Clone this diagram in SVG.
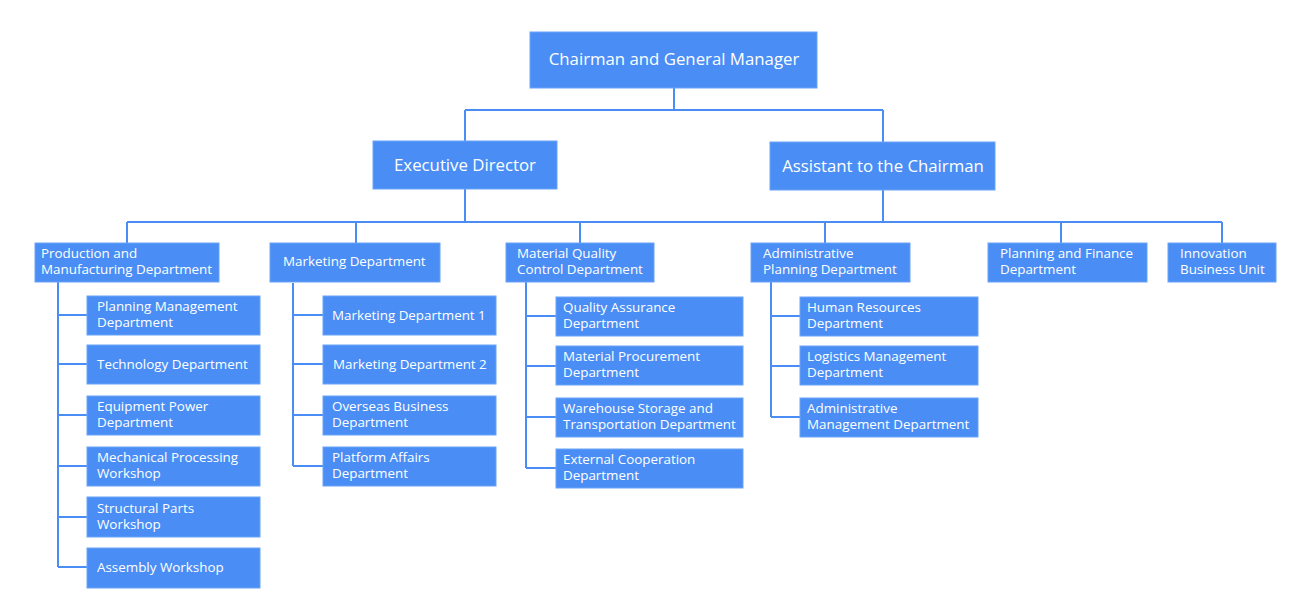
<svg xmlns="http://www.w3.org/2000/svg" width="1310" height="616" viewBox="0 0 1310 616">
<style>
.b{fill:#4a8ef5;stroke:#6aa3f7;stroke-width:1}
.t{font-family:"Open Sans","Noto Sans",sans-serif;font-size:13.4px;fill:#fff}
.tl{font-family:"Open Sans","Noto Sans",sans-serif;font-size:16.8px;fill:#fff;text-anchor:middle}
.c{fill:none;stroke:#4a8ef5;stroke-width:2}
</style>
<rect width="1310" height="616" fill="#fff"/>
<g id="connectors" class="c">
<path d="M674 88V110M465 110H883M465 110V141M883 110V142"/>
<path d="M465 189V222M883 190V222M127 222H1222M127 222V243M356 222V243M580 222V243M825 222V243M1061 222V243M1222 222V243"/>
<path d="M58 282V567M58 315H87M58 364H87M58 415H87M58 466H87M58 517H87M58 567H87"/>
<path d="M293 283V466M293 315H323M293 364H323M293 415H323M293 466H323"/>
<path d="M526 282V468M526 316H556M526 366H556M526 417H556M526 468H556"/>
<path d="M771 282V417M771 316H800M771 366H800M771 417H800"/>
</g>
<g id="n-chairman"><rect class="b" x="530" y="32" width="287" height="56"/><text class="tl" x="674" y="65">Chairman and General Manager</text></g>
<g id="n-exec"><rect class="b" x="373" y="141" width="184" height="48"/><text class="tl" x="465" y="171">Executive Director</text></g>
<g id="n-assist"><rect class="b" x="770" y="142" width="225" height="48"/><text class="tl" x="883" y="172">Assistant to the Chairman</text></g>

<g id="n-prod"><rect class="b" x="35" y="243" width="184" height="39"/><text class="t" x="41" y="258">Production and</text><text class="t" x="41" y="274">Manufacturing Department</text></g>
<g id="n-mkt"><rect class="b" x="270" y="243" width="170" height="39"/><text class="t" x="283" y="266">Marketing Department</text></g>
<g id="n-mqc"><rect class="b" x="506" y="243" width="148" height="39"/><text class="t" x="517" y="258">Material Quality</text><text class="t" x="517" y="274">Control Department</text></g>
<g id="n-admin"><rect class="b" x="751" y="243" width="159" height="39"/><text class="t" x="763" y="258">Administrative</text><text class="t" x="763" y="274">Planning Department</text></g>
<g id="n-pf"><rect class="b" x="988" y="243" width="159" height="39"/><text class="t" x="1000" y="258">Planning and Finance</text><text class="t" x="1000" y="274">Department</text></g>
<g id="n-innov"><rect class="b" x="1168" y="243" width="108" height="39"/><text class="t" x="1180" y="258">Innovation</text><text class="t" x="1180" y="274">Business Unit</text></g>

<g id="n-pm"><rect class="b" x="87" y="296" width="173" height="39"/><text class="t" x="97" y="311">Planning Management</text><text class="t" x="97" y="327">Department</text></g>
<g id="n-tech"><rect class="b" x="87" y="345" width="173" height="39"/><text class="t" x="97" y="369">Technology Department</text></g>
<g id="n-equip"><rect class="b" x="87" y="396" width="173" height="39"/><text class="t" x="97" y="411">Equipment Power</text><text class="t" x="97" y="427">Department</text></g>
<g id="n-mech"><rect class="b" x="87" y="447" width="173" height="39"/><text class="t" x="97" y="462">Mechanical Processing</text><text class="t" x="97" y="478">Workshop</text></g>
<g id="n-struct"><rect class="b" x="87" y="497" width="173" height="40"/><text class="t" x="97" y="513">Structural Parts</text><text class="t" x="97" y="529">Workshop</text></g>
<g id="n-assembly"><rect class="b" x="87" y="548" width="173" height="40"/><text class="t" x="97" y="572">Assembly Workshop</text></g>

<g id="n-md1"><rect class="b" x="323" y="296" width="173" height="39"/><text class="t" x="332" y="320">Marketing Department 1</text></g>
<g id="n-md2"><rect class="b" x="323" y="345" width="173" height="39"/><text class="t" x="333" y="369">Marketing Department 2</text></g>
<g id="n-overseas"><rect class="b" x="323" y="396" width="173" height="39"/><text class="t" x="332" y="411">Overseas Business</text><text class="t" x="332" y="427">Department</text></g>
<g id="n-platform"><rect class="b" x="323" y="447" width="173" height="39"/><text class="t" x="332" y="462">Platform Affairs</text><text class="t" x="332" y="478">Department</text></g>

<g id="n-qa"><rect class="b" x="556" y="297" width="187" height="39"/><text class="t" x="563" y="312">Quality Assurance</text><text class="t" x="563" y="328">Department</text></g>
<g id="n-proc"><rect class="b" x="556" y="346" width="187" height="39"/><text class="t" x="563" y="361">Material Procurement</text><text class="t" x="563" y="377">Department</text></g>
<g id="n-wh"><rect class="b" x="556" y="398" width="187" height="39"/><text class="t" x="563" y="413">Warehouse Storage and</text><text class="t" x="563" y="429">Transportation Department</text></g>
<g id="n-ext"><rect class="b" x="556" y="449" width="187" height="39"/><text class="t" x="563" y="464">External Cooperation</text><text class="t" x="563" y="480">Department</text></g>

<g id="n-hr"><rect class="b" x="800" y="297" width="178" height="39"/><text class="t" x="807" y="312">Human Resources</text><text class="t" x="807" y="328">Department</text></g>
<g id="n-log"><rect class="b" x="800" y="346" width="178" height="39"/><text class="t" x="807" y="361">Logistics Management</text><text class="t" x="807" y="377">Department</text></g>
<g id="n-am"><rect class="b" x="800" y="398" width="178" height="39"/><text class="t" x="807" y="413">Administrative</text><text class="t" x="807" y="429">Management Department</text></g>
</svg>
